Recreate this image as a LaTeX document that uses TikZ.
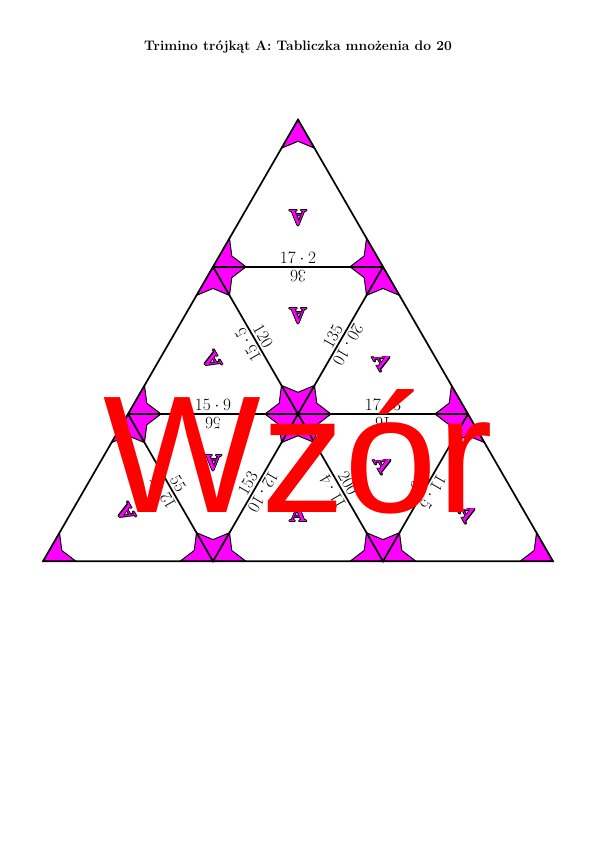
\documentclass[tikz,border=0pt]{standalone}
\usepackage{fontspec}
\newfontfamily\wmfont{Liberation Sans}
\usetikzlibrary{calc}
\definecolor{pinkA}{RGB}{255,0,255}
\definecolor{wmred}{RGB}{255,0,0}
\tikzset{
  piece/.style={fill=pinkA, draw=black, line width=1.0pt, line join=miter},
  edge/.style={draw=black, line width=1.7pt, line join=miter},
  elab/.style={midway, sloped, allow upside down, above=2.5pt, inner sep=0.5pt, font=\fontsize{16.5}{19}\selectfont},
  aglyph/.style={inner sep=0pt, font=\fontsize{22}{26}\selectfont\bfseries},
}
\newcommand\trimpiece[3]{%
  \filldraw[piece] (#1) -- ($0.806*(#1)+0.194*(#2)$) -- ($0.8526*(#1)+0.0737*(#2)+0.0737*(#3)$) -- ($0.806*(#1)+0.194*(#3)$) -- cycle;}
\newcommand\trimtri[3]{\trimpiece{#1}{#2}{#3}\trimpiece{#2}{#3}{#1}\trimpiece{#3}{#1}{#2}}
\newcommand\trimA[4]{%
  \foreach \k in {0,30,...,330}{\node[aglyph,text=black,rotate=#4] at ($(#2,#3)+(\k:0.75)$) {A};}
  \node[aglyph,text=pinkA,rotate=#4] (#1) at (#2,#3) {A};}
\begin{document}
\begin{tikzpicture}[x=1pt,y=-1pt]
\useasboundingbox (0,0) rectangle (596,842);
\fill[white] (0,0) rectangle (596,842);
\node[font=\bfseries\fontsize{13.8}{16}\selectfont, anchor=base, inner sep=0pt] (title) at (298,51) {Trimino trójkąt A: Tabliczka mnożenia do 20};
% grid points
\coordinate (A0) at (298,119.6);
\coordinate (B1) at (213,266.8);
\coordinate (B2) at (383,266.8);
\coordinate (C1) at (128,414.0);
\coordinate (C2) at (298,414.0);
\coordinate (C3) at (468,414.0);
\coordinate (D1) at (43,561.3);
\coordinate (D2) at (213,561.3);
\coordinate (D3) at (383,561.3);
\coordinate (D4) at (553,561.3);
% corner pieces
\trimtri{A0}{B1}{B2}
\trimtri{B1}{B2}{C2}
\trimtri{B1}{C1}{C2}
\trimtri{B2}{C2}{C3}
\trimtri{C1}{D1}{D2}
\trimtri{C1}{C2}{D2}
\trimtri{C2}{D2}{D3}
\trimtri{C2}{C3}{D3}
\trimtri{C3}{D3}{D4}
% edges
\draw[edge] (A0) -- (D1) -- (D4) -- cycle;
\draw[edge] (B1) -- (B2);
\draw[edge] (C1) -- (C3);
\draw[edge] (B1) -- (C2) -- (B2);
\draw[edge] (C1) -- (D2) -- (C2) -- (D3) -- (C3);
% edge labels
\path (B1) -- (B2) node[elab] (l1) {$17\cdot 2$};
\path (B2) -- (B1) node[elab] (l2) {$36$};
\path (B1) -- (C2) node[elab] (l3) {$120$};
\path (C2) -- (B1) node[elab] (l4) {$15\cdot 5$};
\path (C2) -- (B2) node[elab] (l5) {$135$};
\path (B2) -- (C2) node[elab] (l6) {$20\cdot 10$};
\path (C1) -- (C2) node[elab] (l7) {$15\cdot 9$};
\path (C2) -- (C1) node[elab] (l8) {$56$};
\path (C2) -- (C3) node[elab] (l9) {$17\cdot 3$};
\path (C3) -- (C2) node[elab] (l10) {$16$};
\path (C1) -- (D2) node[elab] (l11) {$55$};
\path (D2) -- (C1) node[elab] (l12) {$12\cdot 5$};
\path (D2) -- (C2) node[elab] (l13) {$153$};
\path (C2) -- (D2) node[elab] (l14) {$12\cdot 10$};
\path (C2) -- (D3) node[elab] (l15) {$200$};
\path (D3) -- (C2) node[elab] (l16) {$11\cdot 4$};
\path (D3) -- (C3) node[elab] (l17) {$63$};
\path (C3) -- (D3) node[elab] (l18) {$11\cdot 5$};
% letters
\trimA{a1}{298}{218}{180}
\trimA{a2}{298}{316}{180}
\trimA{a3}{212}{361}{120}
\trimA{a4}{383}{361}{300}
\trimA{a5}{126}{513}{120}
\trimA{a6}{213}{463}{180}
\trimA{a7}{298}{514}{0}
\trimA{a8}{384}{464}{300}
\trimA{a9}{468}{513}{300}
% watermark
\node[text=wmred, font=\wmfont\fontsize{167}{167}\selectfont, anchor=base, inner sep=0pt] (wm) at (298.5,512) {Wzór};
\end{tikzpicture}
\end{document}
